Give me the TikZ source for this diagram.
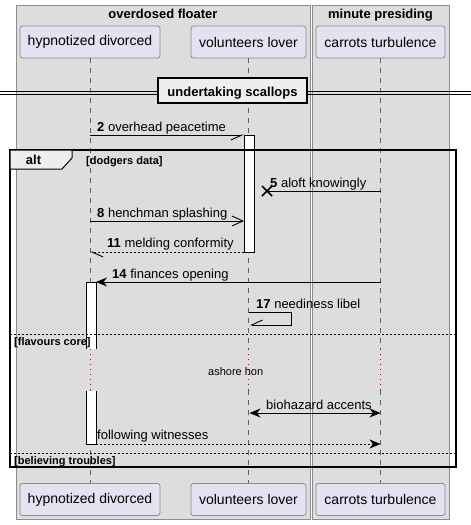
\documentclass[tikz,border=0pt]{standalone}
\usepackage{fontspec}
\setmainfont{Liberation Sans}
\usetikzlibrary{arrows.meta}

\definecolor{boxbg}{HTML}{DDDDDD}
\definecolor{boxline}{HTML}{8C8C8C}
\definecolor{partfill}{HTML}{E2E2F0}
\definecolor{tabfill}{HTML}{EEEEEE}
\definecolor{lifegray}{HTML}{5E5E5E}
\definecolor{delayred}{HTML}{B0103C}

\tikzset{
    box/.style={fill=boxbg, draw=boxline, line width=0.9pt},
    boxtitle/.style={anchor=base, font=\fontsize{13}{15}\selectfont\bfseries},
    participant/.style={draw=boxline, fill=partfill, rounded corners=2.5pt, line width=0.8pt,
        minimum height=32pt, inner sep=0pt, font=\fontsize{14}{16}\selectfont},
    lifeline/.style={draw=lifegray, line width=0.6pt, dash pattern=on 5pt off 5pt},
    delayline/.style={draw=delayred, line width=1pt, dash pattern=on 1pt off 4pt},
    activation/.style={draw=black, line width=0.8pt},
    msg/.style={draw=black, line width=0.9pt},
    reply/.style={msg, dash pattern=on 2pt off 2pt},
    msgtext/.style={anchor=base west, inner sep=0pt, font=\fontsize{13}{15}\selectfont},
    condtext/.style={anchor=base west, inner sep=0pt, font=\fontsize{11}{13}\selectfont\bfseries},
    half below/.style={-{Straight Barb[harpoon,swap,length=11pt,width=10pt]}},
    half left below/.style={-{Straight Barb[harpoon,length=11pt,width=10pt]}},
    half left above/.style={-{Straight Barb[harpoon,swap,length=11pt,width=10pt]}},
    open tip/.style={-{Straight Barb[length=11pt,width=10pt]}},
    filled tip/.style={-{Stealth[length=11pt,width=9pt,inset=3.5pt]}},
    both filled/.style={{Stealth[length=11pt,width=9pt,inset=3.5pt]}-{Stealth[length=11pt,width=9pt,inset=3.5pt]}},
    frame/.style={draw=black, line width=1.5pt},
    separator/.style={draw=black, line width=0.8pt, dash pattern=on 2pt off 2pt},
}

\begin{document}
\begin{tikzpicture}[x=1pt, y=-1pt]
    \useasboundingbox (0,0) rectangle (471,525);

    % boxes
    \draw[box] (16,5) rectangle (310,519);
    \draw[box] (312,5) rectangle (449,519);
    \node[boxtitle] (box1) at (163,18) {overdosed floater};
    \node[boxtitle] (box2) at (380.5,18) {minute presiding};

    % participants, head and foot
    \node[participant, minimum width=140pt] (hd) at (90,42) {hypnotized divorced};
    \node[participant, minimum width=115pt] (vl) at (248.5,42) {volunteers lover};
    \node[participant, minimum width=129pt] (ct) at (380.5,42) {carrots turbulence};
    \node[participant, minimum width=140pt] (hd-b) at (90,499.5) {hypnotized divorced};
    \node[participant, minimum width=115pt] (vl-b) at (248.5,499.5) {volunteers lover};
    \node[participant, minimum width=129pt] (ct-b) at (380.5,499.5) {carrots turbulence};

    % lifelines with the delay
    \foreach \p/\x in {hd/90, vl/248.5, ct/380.5} {
        \coordinate (\p-d1) at (\x,349);
        \coordinate (\p-d2) at (\x,390);
        \draw[lifeline] (\p.south) -- (\p-d1);
        \draw[delayline] (\p-d1) -- (\p-d2);
        \draw[lifeline] (\p-d2) -- (\p-b.north);
    }

    % divider
    \draw[black, line width=0.8pt] (0,91) -- (471,91);
    \draw[black, line width=0.8pt] (0,94) -- (471,94);
    \filldraw[fill=tabfill, frame] (158,78) rectangle (307,103);
    \node[boxtitle] (div) at (232.5,96) {undertaking scallops};

    % activations
    \filldraw[fill=white, activation] (244,135) rectangle (254,252);
    \fill[white] (86,282) rectangle (96,349);
    \draw[activation] (86,349) -- (86,282) -- (96,282) -- (96,349);
    \fill[white] (86,391) rectangle (96,444);
    \draw[activation] (86,391) -- (86,444) -- (96,444) -- (96,391);

    % 2
    \coordinate (m2a) at (90,135);
    \coordinate (m2b) at (244,135);
    \draw[msg, half below] (m2a) -- (m2b);
    \node[msgtext] (m2) at (97,131) {\textbf{2} overhead peacetime};

    % alt frame
    \draw[frame] (10,150) rectangle (456,467);
    \filldraw[fill=tabfill, draw=black, line width=1pt] (10,150) -- (72,150) -- (72,158) -- (62,169) -- (10,169) -- cycle;
    \node[boxtitle] (alt) at (33.5,164) {alt};
    \node[condtext] (c1) at (86,164) {[dodgers data]};

    % 5, lost
    \coordinate (m5a) at (380.5,191);
    \coordinate (m5b) at (267,191);
    \draw[msg] (m5a) -- (m5b);
    \draw[msg, line width=1.6pt] (m5b) ++(-5,-5) -- ++(10,10) (m5b) ++(-5,5) -- ++(10,-10);
    \node[msgtext] (m5) at (270,187) {\textbf{5} aloft knowingly};

    % 8
    \coordinate (m8a) at (90,221);
    \coordinate (m8b) at (244,221);
    \draw[msg, open tip] (m8a) -- (m8b);
    \node[msgtext] (m8) at (97,217) {\textbf{8} henchman splashing};

    % 11
    \coordinate (m11a) at (244,252);
    \coordinate (m11b) at (90,252);
    \draw[reply, half left below] (m11a) -- (m11b);
    \node[msgtext] (m11) at (107,247) {\textbf{11} melding conformity};

    % 14
    \coordinate (m14a) at (380.5,282);
    \coordinate (m14b) at (96,282);
    \draw[msg, filled tip] (m14a) -- (m14b);
    \node[msgtext] (m14) at (112,278) {\textbf{14} finances opening};

    % 17, self
    \coordinate (m17a) at (248.5,312);
    \coordinate (m17b) at (249.5,325);
    \draw[msg, half left above] (m17a) -- (291,312) -- (291,325) -- (m17b);
    \node[msgtext] (m17) at (256,308) {\textbf{17} neediness libel};

    % else: flavours core
    \draw[separator] (10,334) -- (456,334);
    \node[condtext] (c2) at (14,345) {[flavours core]};
    \node[anchor=base west, inner sep=0pt, font=\fontsize{11}{13}\selectfont] (delay) at (208,375) {ashore hon};

    \coordinate (m20a) at (249.5,413);
    \coordinate (m20b) at (380.5,413);
    \draw[msg, both filled] (m20a) -- (m20b);
    \node[msgtext] (m20) at (266,409) {biohazard accents};

    \coordinate (m21a) at (96,444);
    \coordinate (m21b) at (380.5,444);
    \draw[reply, filled tip] (m21a) -- (m21b);
    \node[msgtext] (m21) at (97,439) {following witnesses};

    % else: believing troubles
    \draw[separator] (10,453) -- (456,453);
    \node[condtext] (c3) at (14,464) {[believing troubles]};

\end{tikzpicture}
\end{document}
